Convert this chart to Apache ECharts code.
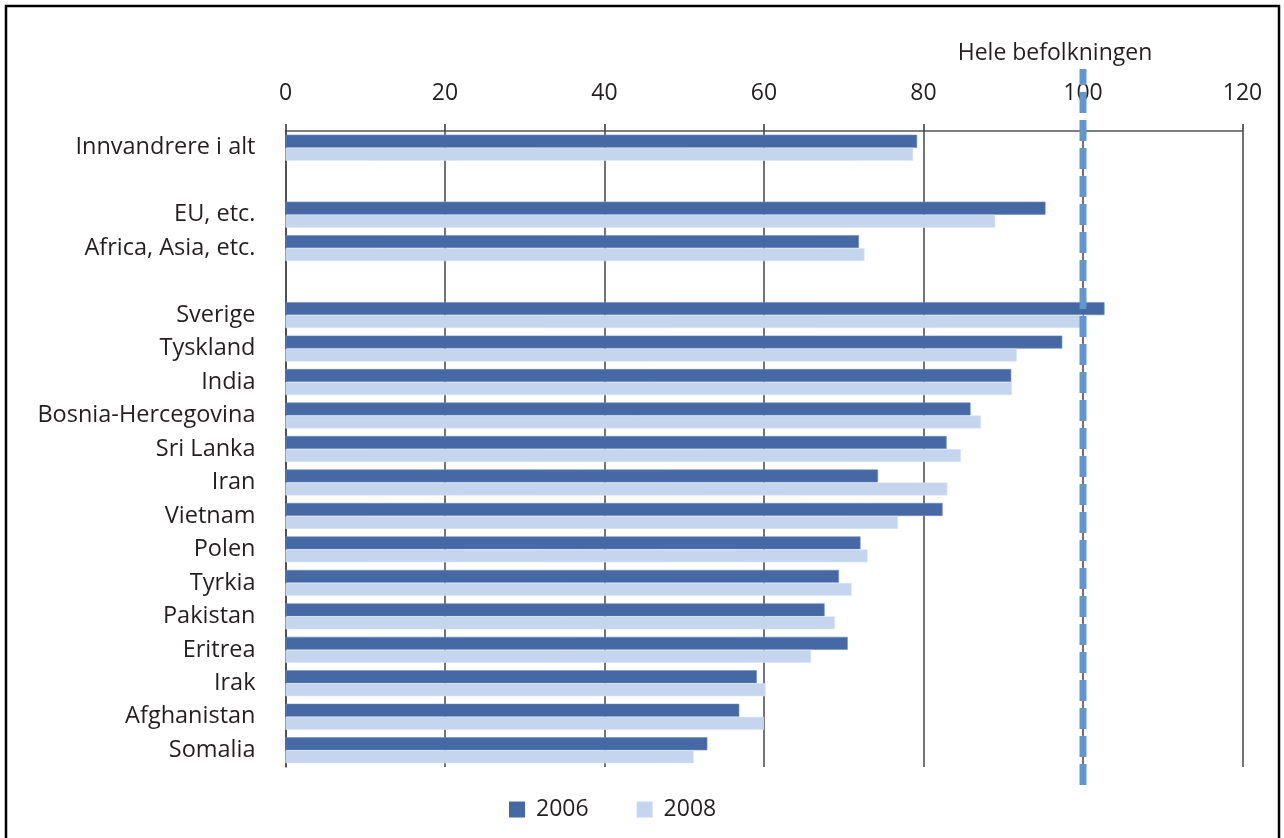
<!DOCTYPE html>
<html>
<head>
<meta charset="utf-8">
<script src="https://cdn.jsdelivr.net/npm/echarts@6/dist/echarts.min.js"></script>
<style>
  html, body { margin: 0; padding: 0; background: #fff; }
  #chart { width: 1284px; height: 838px; }
</style>
</head>
<body>
<div id="chart"></div>
<script>
// Index (hele befolkningen = 100), innvandrere etter landbakgrunn
const categories = [
  'Innvandrere i alt', ' ', 'EU, etc.', 'Africa, Asia, etc.', '  ',
  'Sverige', 'Tyskland', 'India', 'Bosnia-Hercegovina', 'Sri Lanka',
  'Iran', 'Vietnam', 'Polen', 'Tyrkia', 'Pakistan', 'Eritrea',
  'Irak', 'Afghanistan', 'Somalia'
];
const values2006 = [79.2, null, 95.3, 71.9, null,
  102.7, 97.4, 91.0, 85.9, 82.9, 74.3, 82.4, 72.1, 69.4, 67.6, 70.5, 59.1, 56.9, 52.9];
const values2008 = [78.7, null, 89.0, 72.6, null,
  100.0, 91.7, 91.1, 87.2, 84.7, 83.0, 76.8, 73.0, 71.0, 68.9, 65.9, 60.2, 60.0, 51.2];
const seriesNames = ['2006', '2008'];
const referenceValue = 100;
const referenceLabel = 'Hele befolkningen';
const axisMin = 0, axisMax = 120, axisStep = 20;

const FONT = '"Open Sans", sans-serif';
const TEXT = '#231f20';

const chart = echarts.init(document.getElementById('chart'), null, { renderer: 'canvas' });

chart.setOption({
  animation: false,
  backgroundColor: '#ffffff',
  textStyle: { fontFamily: FONT, color: TEXT },
  grid: [
    { left: 285.5, right: 41.5, top: 131, height: 636, containLabel: false },
    { left: 285.5, right: 41.5, top: 69, height: 716, containLabel: false }
  ],
  xAxis: [
    {
      gridIndex: 0, type: 'value', position: 'top',
      min: axisMin, max: axisMax, interval: axisStep,
      axisLine: { show: true, lineStyle: { color: '#555', width: 1.5 } },
      axisTick: { show: true, length: 7, lineStyle: { color: '#333', width: 1.5 } },
      axisLabel: { fontSize: 23, color: TEXT, margin: 26, fontFamily: FONT },
      splitLine: { show: true, lineStyle: { color: '#444', width: 1.5 } }
    },
    {
      gridIndex: 1, type: 'value', min: axisMin, max: axisMax, show: false
    }
  ],
  yAxis: [
    {
      gridIndex: 0, type: 'category', data: categories, inverse: true,
      axisLine: { show: true, lineStyle: { color: '#444', width: 1.5 } },
      axisTick: { show: false },
      axisLabel: { fontSize: 23.5, color: TEXT, margin: 30, fontFamily: FONT },
      splitLine: { show: false }
    },
    {
      gridIndex: 1, type: 'value', min: 0, max: 1, show: false
    }
  ],
  legend: {
    bottom: 12, left: 504,
    itemWidth: 16, itemHeight: 16, itemGap: 48,
    icon: 'rect',
    data: seriesNames,
    itemStyle: { borderWidth: 0 },
    textStyle: { fontSize: 23, color: TEXT, fontFamily: FONT, padding: [0, 0, 0, 6] }
  },
  series: [
    {
      name: seriesNames[0], type: 'bar', xAxisIndex: 0, yAxisIndex: 0,
      data: values2006, barWidth: 13, barGap: '0%',
      itemStyle: { color: '#4669a5', borderColor: '#6e8cbf', borderWidth: 0.6 }
    },
    {
      name: seriesNames[1], type: 'bar', xAxisIndex: 0, yAxisIndex: 0,
      data: values2008, barWidth: 13, barGap: '0%',
      itemStyle: { color: '#c6d5ee', borderColor: '#dbe5f5', borderWidth: 0.6 }
    },
    {
      name: referenceLabel, type: 'line', xAxisIndex: 1, yAxisIndex: 1,
      data: [[referenceValue, 0], [referenceValue, 1]],
      symbol: 'none', z: 5,
      lineStyle: { color: '#5f97ce', width: 7, type: [21, 7], cap: 'butt' }
    }
  ],
  graphic: [
    {
      type: 'text', x: 1055, y: 53,
      style: {
        text: referenceLabel,
        align: 'center', verticalAlign: 'middle',
        font: '23px ' + FONT, fill: TEXT
      }
    },
    {
      type: 'rect', z: 100, silent: true,
      shape: { x: 6, y: 6, width: 1273, height: 860 },
      style: { fill: 'none', stroke: '#000', lineWidth: 2.5 }
    }
  ]
});
</script>
</body>
</html>
